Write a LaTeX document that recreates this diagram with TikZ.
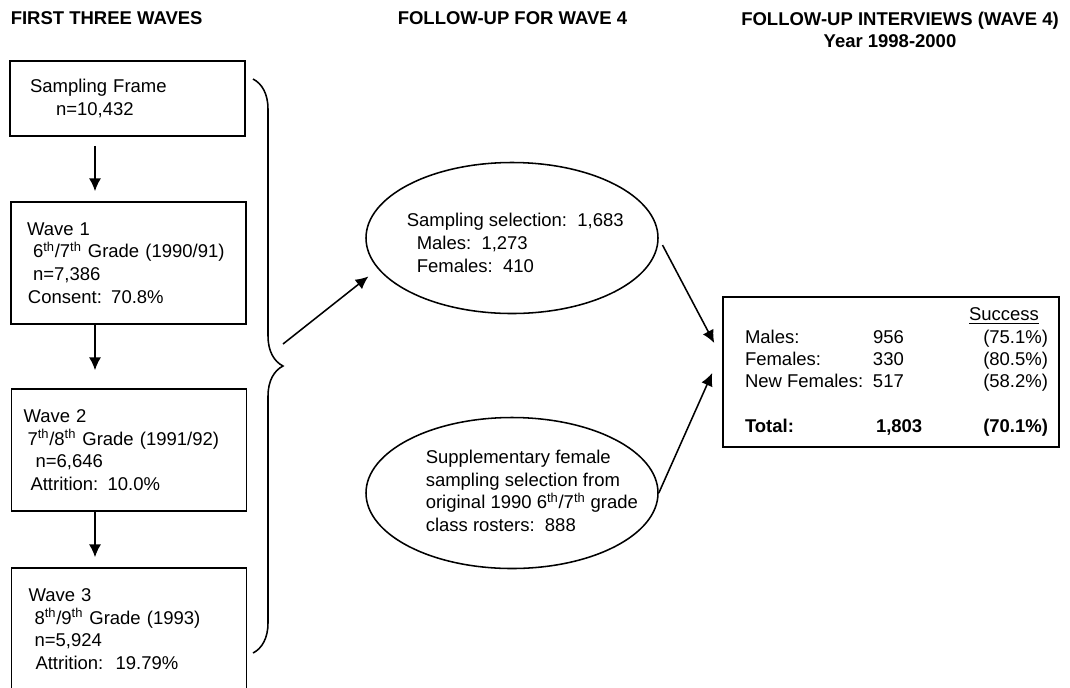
\documentclass[tikz,border=0pt]{standalone}
\usepackage{fontspec}
\setmainfont{Liberation Sans}
\usepackage{array}
\usetikzlibrary{arrows.meta,shapes.geometric,decorations.pathreplacing,calc}

\newlength{\pxu}
\setlength{\pxu}{0.025cm}
\newcommand{\ind}[1]{\hspace*{#1\pxu}}

\begin{document}
\begin{tikzpicture}[x=0.025cm, y=-0.025cm, line width=1.1pt,
    every node/.style={font=\fontsize{13.15}{16.1}\selectfont},
    wavebox/.style={draw, rectangle, inner xsep=0pt, text width=235\pxu, align=left},
    oval/.style={draw, ellipse, minimum width=292\pxu, minimum height=151\pxu, inner sep=0pt},
    txt/.style={align=left, inner sep=0pt, anchor=west},
    head/.style={font=\fontsize{13.15}{15.6}\selectfont\bfseries, inner sep=0pt},
    arr/.style={-{Latex[width=0.3cm,length=0.32cm]}}]
    \useasboundingbox (0,0) rectangle (1070,687);
    \clip (0,0) rectangle (1070,687);

    % headings
    \node[head, anchor=west] (h1) at (10,18) {FIRST THREE WAVES};
    \node[head, anchor=west] (h2) at (397,18) {FOLLOW-UP FOR WAVE 4};
    \node[head, align=center, anchor=north] (h3) at (900,11) {FOLLOW-UP INTERVIEWS (WAVE 4)\\Year 1998-2000\ind{20}};

    % first three waves
    \node[wavebox, minimum height=75\pxu] (frame) at (127.5,98.5) {\ind{20}Sampling Frame\\\ind{46}n=10,432};
    \node[wavebox, minimum height=122\pxu] (w1) at (128.5,263) {\ind{16}Wave 1\\\ind{22}6\textsuperscript{th}/7\textsuperscript{th} Grade (1990/91)\\\ind{22}n=7,386\\\ind{17}Consent: 70.8\%};
    \node[wavebox, minimum height=122\pxu] (w2) at (129,450) {\ind{12}Wave 2\\\ind{16}7\textsuperscript{th}/8\textsuperscript{th} Grade (1991/92)\\\ind{24}n=6,646\\\ind{19}Attrition: 10.0\%};
    \node[wavebox, minimum height=122\pxu] (w3) at (129,629) {\ind{17}Wave 3\\\ind{23}8\textsuperscript{th}/9\textsuperscript{th} Grade (1993)\\\ind{23}n=5,924\\\ind{24}Attrition:~~19.79\%};

    \coordinate (ax) at (95,0);
    \draw[arr, shorten <=0.225cm, shorten >=0.25cm] (frame.south -| ax) -- (w1.north -| ax);
    \draw[arr, shorten >=0.45cm] (w1.south -| ax) -- (w2.north -| ax);
    \draw[arr, shorten >=0.25cm] (w2.south -| ax) -- (w3.north -| ax);

    % brace over the waves
    \coordinate (bt) at (253,79);
    \coordinate (bb) at (253,653);
    \draw[decorate, decoration={brace, amplitude=0.75cm}] (bt) -- (bb);

    % follow-up for wave 4
    \node[oval] (sel) at (512,238) {};
    \node[txt] (seltxt) at (406,243) {Sampling selection:~~1,683\\\ind{10}Males:~~1,273\\\ind{10}Females:~~410};
    \node[oval] (supp) at (512,493) {};
    \node[txt] (supptxt) at (425,491) {Supplementary female\\sampling selection from\\original 1990 6\textsuperscript{th}/7\textsuperscript{th} grade\\class rosters:~~888};

    \coordinate (bo) at (283,344);
    \draw[arr, shorten >=0.3cm] (bo) -- (sel.193);

    % follow-up interviews
    \node[draw, rectangle, minimum width=336\pxu, minimum height=150\pxu, inner sep=0pt] (res) at (891,372) {%
      \fontsize{13.15}{15.8}\selectfont
      \begin{tabular}{@{\hspace{11\pxu}}p{128\pxu}@{}p{96\pxu}@{}>{\raggedleft\arraybackslash}p{79\pxu}@{}}
        & & \underline{Success}\rule{10\pxu}{0pt}\\
        Males: & 956 & (75.1\%)\\
        Females: & 330 & (80.5\%)\\
        New Females: & 517 & (58.2\%)\\
        & & \\
        \textbf{Total:} & \ind{3}\textbf{1,803} & \textbf{(70.1\%)}
      \end{tabular}};

    \draw[arr, shorten <=0.2cm] (sel.east) -- ($(res.west)+(-8,-29)$);
    \draw[arr] (supp.east) -- ($(res.west)+(-10,1)$);
\end{tikzpicture}
\end{document}
